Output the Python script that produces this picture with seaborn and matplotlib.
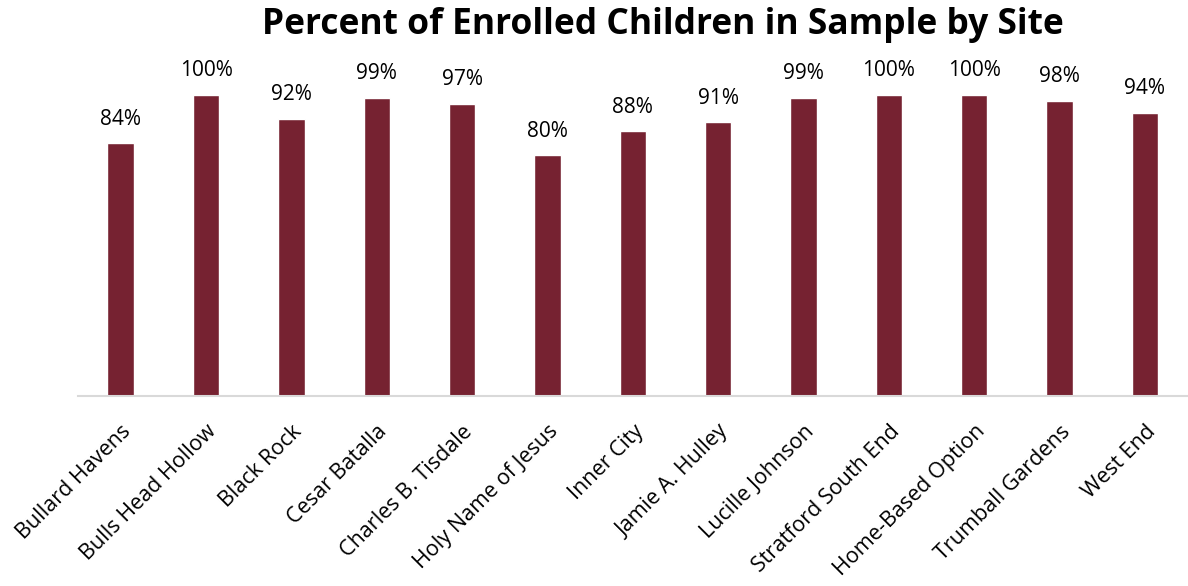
import matplotlib
matplotlib.use("Agg")
import matplotlib.pyplot as plt
import seaborn as sns
import pandas as pd

sites = ["Bullard Havens", "Bulls Head Hollow", "Black Rock", "Cesar Batalla",
         "Charles B. Tisdale", "Holy Name of Jesus", "Inner City", "Jamie A. Hulley",
         "Lucille Johnson", "Stratford South End", "Home-Based Option",
         "Trumball Gardens", "West End"]
percents = [84, 100, 92, 99, 97, 80, 88, 91, 99, 100, 100, 98, 94]

df = pd.DataFrame({"site": sites, "pct": percents})

sns.set_theme(style="white")
plt.rcParams['font.family'] = ['Open Sans', 'DejaVu Sans']

fig = plt.figure(figsize=(11.88, 5.86), dpi=100)
ax = fig.add_axes([0.0657, 0.324, 0.934, 0.616])

sns.barplot(data=df, x="site", y="pct", color="#762231", width=0.31,
            saturation=1, ax=ax)

for i, v in enumerate(percents):
    ax.annotate(f"{v}%", (i, v), xytext=(0, 10), textcoords="offset points",
                ha="center", va="bottom", fontsize=15, color="#000000")

ax.set_ylim(0, 120)
ax.set_xlim(-0.5, len(sites) - 0.5)
ax.set_yticks([])
ax.set_xlabel("")
ax.set_ylabel("")
for s in ["top", "right", "left"]:
    ax.spines[s].set_visible(False)
ax.spines["bottom"].set_color("#d9d9d9")
ax.spines["bottom"].set_linewidth(1.5)
ax.tick_params(axis="x", length=0, pad=18)
plt.setp(ax.get_xticklabels(), rotation=45, ha="right", rotation_mode="anchor",
         fontsize=15.5, color="#000000")

fig.text(0.558, 0.957, "Percent of Enrolled Children in Sample by Site",
         fontsize=25.5, fontweight="bold", color="#000000",
         ha="center", va="center")

fig.savefig("out.png", dpi=100)
